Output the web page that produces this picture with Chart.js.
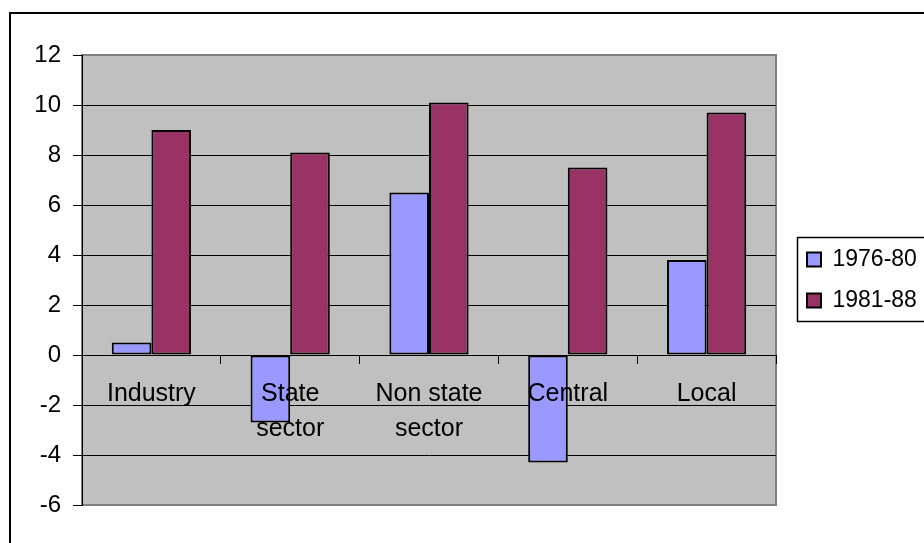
<!DOCTYPE html>
<html>
<head>
<meta charset="utf-8">
<script src="https://cdn.jsdelivr.net/npm/chart.js@4/dist/chart.umd.min.js"></script>
<style>
  html, body { margin: 0; padding: 0; background: #fff; }
</style>
</head>
<body>
<canvas id="chart" width="924" height="543"></canvas>
<script>
// Growth rates by sector, two periods
const categories = ['Industry', ['State', 'sector'], ['Non state', 'sector'], 'Central', 'Local'];
const seriesNames = ['1976-80', '1981-88'];
const values7680 = [0.5, -2.7, 6.5, -4.3, 3.8];
const values8188 = [9.0, 8.1, 10.1, 7.5, 9.7];
const yTicks = [-6, -4, -2, 0, 2, 4, 6, 8, 10, 12];

const FONT = 'Arial, "Liberation Sans", sans-serif';

// grey plot area, its frame and the outer chart border
const backdrop = {
    id: 'backdrop',
    beforeDraw(chart) {
        const { ctx, chartArea: a } = chart;
        ctx.save();
        ctx.fillStyle = '#fff';
        ctx.fillRect(0, 0, chart.width, chart.height);
        ctx.fillStyle = '#C0C0C0';
        ctx.fillRect(a.left, a.top, a.right - a.left, a.bottom - a.top);
        ctx.strokeStyle = '#808080';
        ctx.lineWidth = 2;
        ctx.strokeRect(a.left, a.top, a.right - a.left, a.bottom - a.top);
        ctx.strokeStyle = '#000';
        ctx.lineWidth = 2;
        ctx.strokeRect(10, 13, chart.width + 20, chart.height + 20);
        ctx.restore();
    }
};

// fixed legend width plus a box drawn around the entries
const legendFrame = {
    id: 'legendFrame',
    afterInit(chart) {
        const lg = chart.legend;
        const fit = lg.fit.bind(lg);
        lg.fit = function () {
            fit();
            this.width = 135;
        };
    },
    afterDraw(chart) {
        const lg = chart.legend;
        const boxes = lg.legendHitBoxes;
        if (!boxes || !boxes.length) return;
        const first = boxes[0], last = boxes[boxes.length - 1];
        const top = first.top + first.height / 2 - 22;
        const bottom = last.top + last.height / 2 + 21;
        const { ctx } = chart;
        ctx.save();
        ctx.strokeStyle = '#000';
        ctx.lineWidth = 1.5;
        ctx.strokeRect(lg.left + 8.5, top, chart.width, bottom - top);
        ctx.restore();
    }
};

new Chart(document.getElementById('chart'), {
    type: 'bar',
    data: {
        labels: categories,
        datasets: [
            {
                label: seriesNames[0],
                data: values7680,
                backgroundColor: '#9999FF',
                borderColor: '#000',
                borderWidth: 2,
                borderSkipped: false
            },
            {
                label: seriesNames[1],
                data: values8188,
                backgroundColor: '#993366',
                borderColor: '#000',
                borderWidth: 2,
                borderSkipped: false
            }
        ]
    },
    options: {
        responsive: false,
        animation: false,
        devicePixelRatio: 1,
        layout: { padding: { left: 10, top: 55, bottom: 38, right: 0 } },
        datasets: {
            bar: { barPercentage: 1, categoryPercentage: 0.571 }
        },
        plugins: {
            tooltip: { enabled: false },
            legend: {
                position: 'right',
                labels: {
                    boxWidth: 14,
                    boxHeight: 14,
                    padding: 18,
                    color: '#000',
                    font: { family: FONT, size: 23 }
                }
            }
        },
        scales: {
            x: {
                position: { y: 0 },
                offset: true,
                grid: {
                    offset: true,
                    drawOnChartArea: false,
                    drawTicks: true,
                    tickLength: 8,
                    color: '#000',
                    lineWidth: 1
                },
                border: { display: true, color: '#000', width: 1 },
                ticks: {
                    z: 1,
                    color: '#000',
                    padding: 14,
                    maxRotation: 0,
                    autoSkip: false,
                    font: { family: FONT, size: 25, lineHeight: 1.4 }
                }
            },
            y: {
                min: -6,
                max: 12,
                afterBuildTicks: s => { s.ticks = yTicks.map(v => ({ value: v })); },
                afterFit: s => { s.width = 72; },
                grid: {
                    color: c => (c.tick && (c.tick.value === 12 || c.tick.value === -6)) ? 'rgba(0,0,0,0)' : '#000',
                    tickColor: '#000',
                    tickLength: 9,
                    lineWidth: 1
                },
                border: { color: '#000', width: 1 },
                ticks: {
                    color: '#000',
                    padding: 12,
                    font: { family: FONT, size: 24 }
                }
            },
            gap: {
                position: 'right',
                display: true,
                grid: { display: false },
                border: { display: false },
                ticks: { display: false },
                afterFit: s => { s.width = 13; }
            }
        }
    },
    plugins: [backdrop, legendFrame]
});
</script>
</body>
</html>
